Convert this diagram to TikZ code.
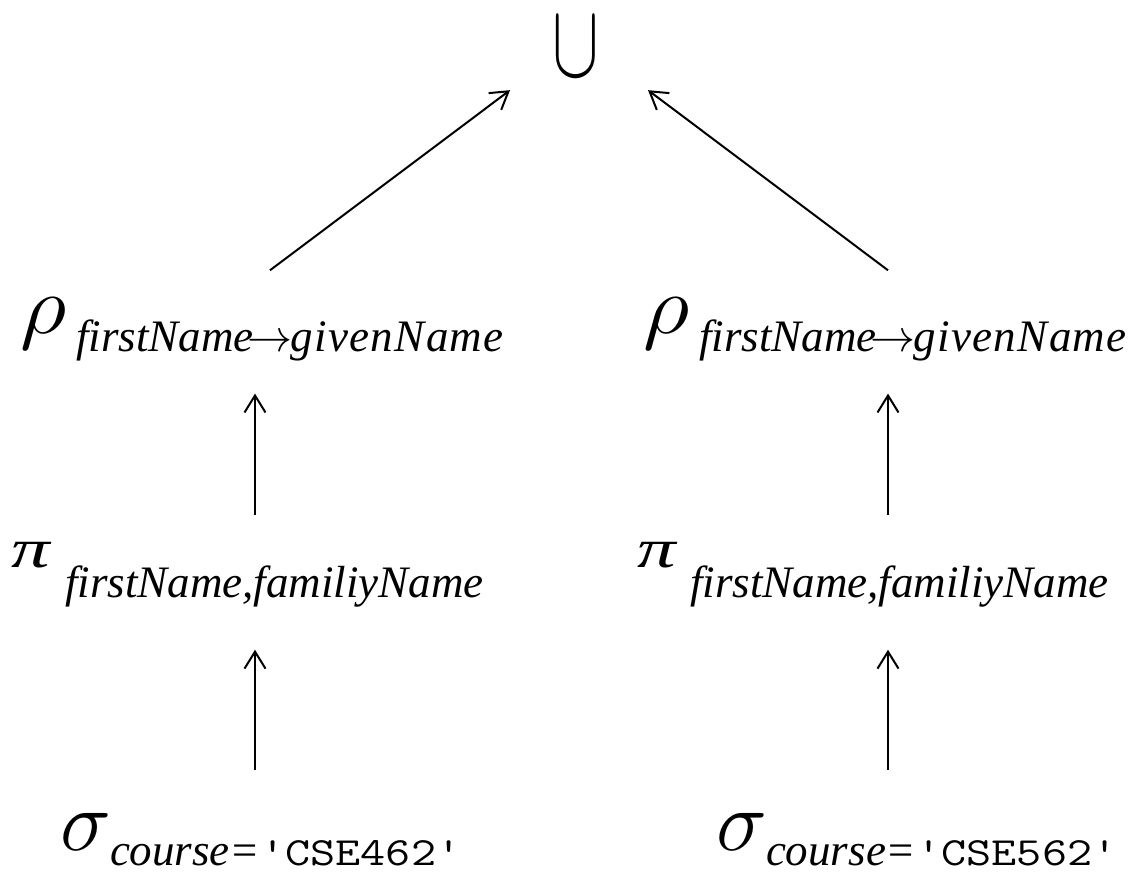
\RequirePackage{fix-cm}
\documentclass[tikz,border=0pt]{standalone}
\usepackage{fontspec}
\setmainfont{Liberation Serif}
\usetikzlibrary{arrows.meta,calc}

% horizontally widened glyph
\newcommand\widen[2]{\scalebox{#1}[1]{#2}}
% quoted literal in typewriter type
\newcommand\lit[1]{{\upshape\ttfamily\fontsize{40}{48}\selectfont\widen{1.22}{'#1'}}}
% renaming arrow inside a subscript
\newcommand\renames{\kern-6pt$\rightarrow$\kern-2pt}

\tikzset{
  lbl/.style={inner sep=0pt, outer sep=0pt, anchor=base west},
  rhofont/.style={lbl, font=\fontsize{83}{96}\selectfont},
  pifont/.style={lbl, font=\fontsize{55}{66}\selectfont\itshape},
  sigfont/.style={lbl, font=\fontsize{86}{100}\selectfont},
  sub/.style={lbl, font=\fontsize{45}{54}\selectfont\itshape},
  arr/.style={line width=2pt, -{Straight Barb[length=17pt, width=21pt]}},
}

\begin{document}
\begin{tikzpicture}[x=1pt, y=-1pt]
  \useasboundingbox (0,0) rectangle (1140,871);

  % union at the root
  \node[inner sep=0pt, outer sep=0pt] (cup) at (576,47)
    {\scalebox{1}[1.5]{\fontsize{70}{84}\selectfont$\cup$}};

  % column guides for the vertical connectors
  \coordinate (colL) at (255,0);
  \coordinate (colR) at (888,0);

  % left branch
  \node[rhofont] (rhoL) at (20,333) {\widen{1.1}{$\rho$}};
  \node[sub] (rhoLs) at (76,351) {firstName\renames{\addfontfeature{LetterSpace=3}givenName}};
  \node[pifont] (piL) at (12,567) {\widen{1.4}{π}};
  \node[sub] (piLs) at (65,597) {firstName,familiyName};
  \node[sigfont] (sigL) at (60,850) {$\sigma$};
  \node[sub] (sigLs) at (110,865) {course=\lit{CSE462}};

  % right branch
  \node[rhofont] (rhoR) at (643,333) {\widen{1.1}{$\rho$}};
  \node[sub] (rhoRs) at (699,351) {firstName\renames{\addfontfeature{LetterSpace=3}givenName}};
  \node[pifont] (piR) at (637,567) {\widen{1.4}{π}};
  \node[sub] (piRs) at (690,597) {firstName,familiyName};
  \node[sigfont] (sigR) at (716,850) {$\sigma$};
  \node[sub] (sigRs) at (766,865) {course=\lit{CSE562}};

  % connectors
  \draw[arr, shorten <=43pt, shorten >=43pt] (colL |- sigL.north) -- (colL |- piLs.south);
  \draw[arr, shorten <=27pt, shorten >=33pt] (colL |- piL.north) -- (colL |- rhoLs.south);
  \draw[arr, shorten <=43pt, shorten >=43pt] (colR |- sigR.north) -- (colR |- piRs.south);
  \draw[arr, shorten <=27pt, shorten >=33pt] (colR |- piR.north) -- (colR |- rhoRs.south);

  \draw[arr] ($(colL |- rhoL.north)+(15,-27)$) -- ($(cup.south)+(-66,14)$);
  \draw[arr] ($(colR |- rhoR.north)+(0,-27)$) -- ($(cup.south)+(72,14)$);
\end{tikzpicture}
\end{document}
